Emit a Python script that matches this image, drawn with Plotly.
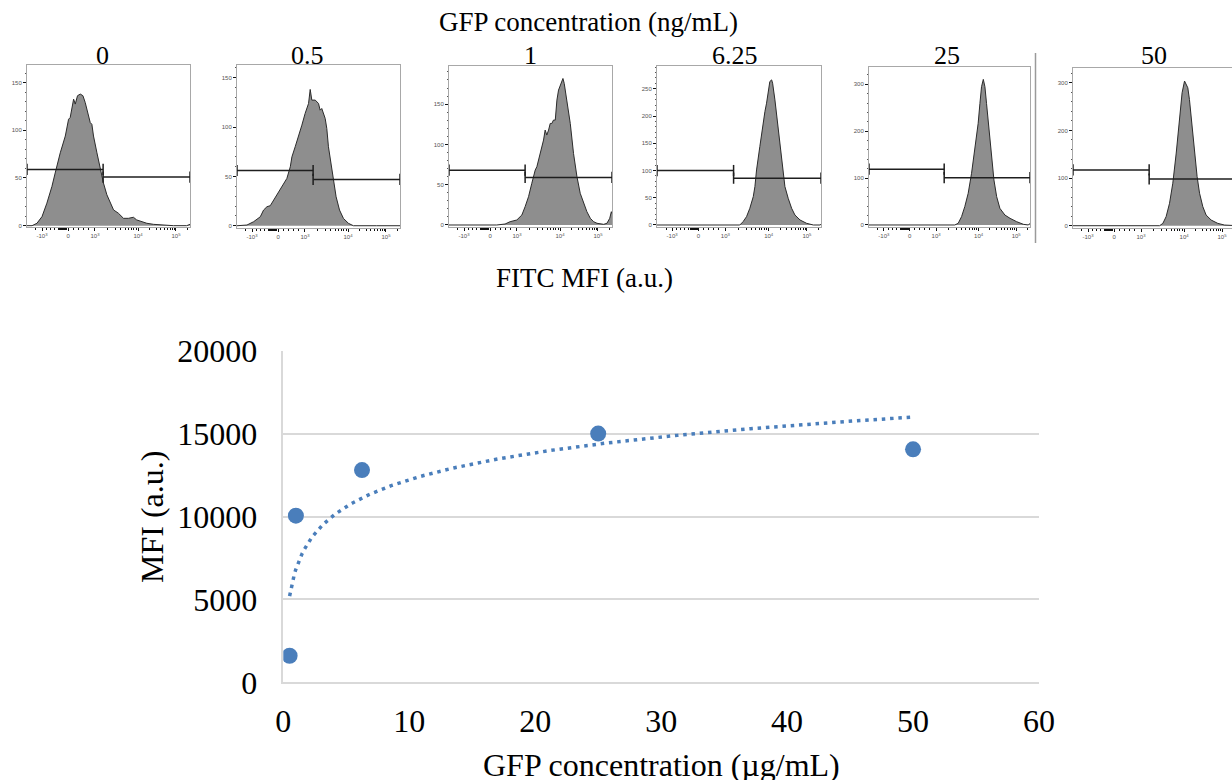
import numpy as np
import plotly.graph_objects as go

W, H = 1232, 780

# ---------------- bottom chart data ----------------
gfp_conc_ug = [0.5, 1, 6.25, 25, 50]
mfi_au = [1600, 10050, 12800, 15000, 14050]
x_ticks_bottom = [0, 10, 20, 30, 40, 50, 60]
y_ticks_bottom = [0, 5000, 10000, 15000, 20000]

# ---------------- flow histogram data (channel 0-100, event count) ----------------
panel_labels = ["0", "0.5", "1", "6.25", "25", "50"]

hist0_ch = [0, 3.1, 6.1, 9.2, 12.2, 15.3, 17.3, 20.4, 23.5, 25.5, 26.5, 27.6, 28.6, 29.6, 31.0, 32.7,
            34.3, 35.7, 37.1, 38.8, 39.8, 40.8, 42.9, 44.9, 46.9, 49.0, 51.0, 53.1, 56.1, 59.2, 62.2,
            65.3, 67.3, 70.4, 73.5, 77.6, 81.6, 89.8, 98.0, 100]
hist0_cnt = [0, 0, 2.5, 9.5, 23.6, 41.2, 55.3, 76.4, 94.0, 111.6, 113.4, 125.7, 132.7, 127.5, 136.3,
             138.0, 136.3, 129.2, 120.4, 108.1, 106.3, 94.0, 76.4, 58.8, 44.7, 32.4, 23.6, 16.5, 13.0,
             7.7, 7.7, 8.8, 6.0, 4.2, 2.5, 1.4, 0.7, 0, 0, 1.4]

hist1_ch = [0, 2.0, 6.1, 10.2, 14.3, 16.3, 18.4, 20.4, 22.4, 24.5, 27.6, 30.6, 32.7, 33.7, 35.7, 37.8,
            39.8, 41.8, 43.9, 44.9, 45.9, 48.0, 50.0, 51.0, 52.0, 54.1, 55.1, 56.1, 57.6, 59.2, 60.8,
            62.9, 65.3, 68.4, 71.4, 85.7, 100]
hist1_cnt = [0, 0, 0.7, 4.1, 9.1, 15.9, 19.3, 20.3, 26.0, 31.1, 39.5, 48.0, 59.8, 69.9, 80.1, 90.2,
             102.0, 113.9, 124.0, 138.2, 127.4, 127.4, 124.0, 117.2, 118.9, 108.8, 98.6, 80.1, 63.2,
             46.3, 29.4, 15.9, 7.4, 2.4, 0, 0, 0]

hist2_ch = [0, 21.1, 29.3, 34.4, 37.5, 41.6, 44.7, 46.7, 48.8, 50.8, 52.9, 53.9, 55.9, 58.0, 59.0,
            60.0, 61.1, 62.1, 63.1, 64.1, 65.2, 66.2, 67.2, 68.6, 69.9, 70.7, 72.3, 74.4, 76.4, 78.5,
            80.5, 82.6, 84.6, 86.7, 88.7, 90.8, 94.9, 96.9, 98.6, 99.6, 100]
hist2_cnt = [0, 0, 0, 1.2, 4.1, 6.2, 12.4, 22.7, 35.1, 51.7, 68.2, 72.3, 88.8, 105.4, 117.8, 111.6,
             117.8, 126.0, 126.0, 130.2, 130.2, 155.0, 167.4, 175.6, 181.8, 175.6, 155.0, 126.0, 88.8,
             59.9, 39.3, 26.9, 16.5, 8.3, 4.1, 2.1, 0.8, 2.1, 8.3, 16.5, 14.0]

hist3_ch = [0, 47.5, 50.5, 52.5, 54.6, 56.6, 58.7, 59.7, 60.7, 62.7, 64.8, 65.8, 66.8, 67.8, 68.8,
            69.9, 70.5, 71.9, 73.3, 75.0, 76.6, 78.0, 80.0, 82.1, 84.1, 87.2, 91.2, 95.3, 99.4, 100]
hist3_cnt = [0, 0, 0, 6.1, 15.3, 30.6, 52.1, 70.5, 101.1, 144.0, 193.0, 208.3, 223.7, 248.2, 263.5,
             266.5, 260.4, 229.8, 193.0, 144.0, 101.1, 70.5, 49.0, 30.6, 18.4, 9.2, 3.1, 0, 0, 1.2]

hist4_ch = [0, 53.3, 55.4, 57.5, 59.5, 61.6, 63.7, 65.8, 67.8, 68.9, 69.9, 71.0, 72.0, 73.0, 74.5,
            76.1, 77.6, 79.3, 81.3, 84.4, 87.6, 91.7, 95.9, 99.0, 100]
hist4_cnt = [0, 0, 3.6, 17.8, 39.1, 67.5, 110.2, 159.9, 216.8, 259.4, 295.0, 310.6, 295.0, 259.4,
             202.6, 138.6, 95.9, 60.4, 35.5, 21.3, 14.2, 7.1, 1.4, 0, 3.6]

hist5_ch = [0, 53.1, 55.1, 57.1, 59.2, 61.2, 63.3, 65.3, 66.9, 68.4, 69.4, 70.4, 71.4, 72.9, 74.5,
            76.1, 77.6, 79.6, 81.6, 84.7, 88.8, 92.9, 96.9, 100]
hist5_cnt = [0, 0, 4.9, 19.0, 47.1, 89.2, 152.5, 229.8, 279.0, 303.6, 296.6, 289.5, 264.9, 215.7,
             152.5, 103.3, 68.2, 40.1, 22.5, 11.9, 4.9, 1.4, 0.7, 0.5]

gate_split_ch = 46.7
gate_left_cnt = [59, 56, 68, 100, 119, 117]
gate_right_cnt = [51, 47, 59, 86, 101, 98]

fitc_tick_labels = ["-10<sup>3</sup>", "0", "10<sup>3</sup>", "10<sup>4</sup>", "10<sup>5</sup>"]
fitc_tick_ch = [9.2, 25.2, 41.7, 68.1, 91.4]

hist_ch = [hist0_ch, hist1_ch, hist2_ch, hist3_ch, hist4_ch, hist5_ch]
hist_cnt = [hist0_cnt, hist1_cnt, hist2_cnt, hist3_cnt, hist4_cnt, hist5_cnt]

# ---------------- layout helpers (pixel boxes) ----------------
def fx(px):
    return px / W

def fy(py):
    return 1 - py / H

panel_box = [  # x0, x1, ytop, ybottom (px)
    (27, 190, 65, 227),
    (237, 400, 65, 228),
    (449, 612, 66, 227),
    (657, 821, 66, 227),
    (869, 1030, 67, 227),
    (1073, 1232, 68, 228),
]
panel_yrange = [(-1.4, 168.5), (-2.3, 163), (-2.5, 197.3), (-3.7, 292), (-4.3, 337), (-4.8, 331)]
panel_ydtick = [50, 50, 50, 50, 100, 100]
panel_yminor = [10, 10, 10, 10, 20, 20]
panel_xrange = [(0, 100)] * 5 + [(0, 97.5)]
label_pos = [(103, 56), (307, 56), (530, 56), (735, 56), (947, 56), (1154, 56)]

# minor ticks for the biexponential-like FITC axis
d3, d4, d5 = fitc_tick_ch[2], fitc_tick_ch[3], fitc_tick_ch[4]
minor_x = [d3 + (d4 - d3) * np.log10(k) for k in range(2, 10)]
minor_x += [d4 + (d5 - d4) * np.log10(k) for k in range(2, 10)]
minor_x += [d5 + (d5 - d4) * np.log10(2)]
minor_x += list(np.linspace(19.5, 24.5, 9)) + [12, 14.5, 17, 28.5, 31.5, 34.5, 37.5, 5.5]

fig = go.Figure()

# ---------------- bottom chart ----------------
fig.add_trace(go.Scatter(
    x=gfp_conc_ug, y=mfi_au, mode="markers",
    marker=dict(size=16, color="#4a7ebb"),
    xaxis="x", yaxis="y", showlegend=False, hoverinfo="x+y"))

lx = np.log(np.array(gfp_conc_ug, dtype=float))
coef = np.polyfit(lx, np.array(mfi_au, dtype=float), 1)
xs = np.linspace(min(gfp_conc_ug), max(gfp_conc_ug), 400)
fig.add_trace(go.Scatter(
    x=xs, y=coef[0] * np.log(xs) + coef[1], mode="lines",
    line=dict(color="#4a7ebb", width=3.5, dash="3.5px,4.8px"),
    xaxis="x", yaxis="y", showlegend=False, hoverinfo="skip"))

serif = "Liberation Serif, Times New Roman, serif"
layout = dict(
    template="none",
    width=W, height=H,
    margin=dict(l=0, r=0, t=0, b=0, autoexpand=False),
    paper_bgcolor="white", plot_bgcolor="white",
    showlegend=False,
    xaxis=dict(domain=[fx(283.3), fx(1039)], range=[0, 60], tickvals=x_ticks_bottom,
               ticktext=[str(v) for v in x_ticks_bottom], automargin=False,
               showgrid=False, zeroline=False, showline=True, linecolor="#d9d9d9", linewidth=1.5,
               ticks="outside", ticklen=10, tickcolor="rgba(0,0,0,0)",
               tickfont=dict(family=serif, size=32, color="black"), anchor="y"),
    yaxis=dict(domain=[fy(682.3), fy(350.7)], range=[0, 20000], tickvals=y_ticks_bottom,
               ticktext=[str(v) for v in y_ticks_bottom], automargin=False,
               showgrid=True, gridcolor="#d9d9d9", gridwidth=1.5, zeroline=False,
               showline=True, linecolor="#d9d9d9", linewidth=1.5,
               ticks="outside", ticklen=18, tickcolor="rgba(0,0,0,0)",
               tickfont=dict(family=serif, size=32, color="black"), anchor="x"),
)

annotations = [
    dict(text="GFP concentration (µg/mL)", x=fx(661), y=fy(765), xref="paper", yref="paper",
         showarrow=False, font=dict(family=serif, size=32, color="black"),
         xanchor="center", yanchor="middle"),
    dict(text="MFI (a.u.)", x=fx(152), y=fy(517), xref="paper", yref="paper", textangle=-90,
         showarrow=False, font=dict(family=serif, size=32, color="black"),
         xanchor="center", yanchor="middle"),
    dict(text="GFP concentration (ng/mL)", x=fx(588), y=fy(22), xref="paper", yref="paper",
         showarrow=False, font=dict(family=serif, size=27, color="black"),
         xanchor="center", yanchor="middle"),
    dict(text="FITC MFI (a.u.)", x=fx(584), y=fy(278), xref="paper", yref="paper",
         showarrow=False, font=dict(family=serif, size=27, color="black"),
         xanchor="center", yanchor="middle"),
]

small = dict(family="Liberation Sans, Arial, sans-serif", size=6, color="#555")

for i in range(6):
    k = i + 2
    xa, ya = f"x{k}", f"y{k}"
    x0, x1, yt, yb = panel_box[i]
    fig.add_trace(go.Scatter(
        x=hist_ch[i], y=hist_cnt[i], mode="lines", fill="tozeroy",
        fillcolor="#8e8e8e", line=dict(color="#2b2b2b", width=1),
        xaxis=xa, yaxis=ya, showlegend=False, hoverinfo="skip"))
    for xs_g, yv in (([0, gate_split_ch], gate_left_cnt[i]), ([gate_split_ch, 100], gate_right_cnt[i])):
        fig.add_trace(go.Scatter(
            x=xs_g, y=[yv, yv], mode="lines+markers",
            line=dict(color="#1e1e1e", width=1.5),
            marker=dict(symbol="line-ns-open", size=8, color="#1e1e1e", line=dict(width=1.5)),
            xaxis=xa, yaxis=ya, showlegend=False, hoverinfo="skip", cliponaxis=False))
    ytv = list(range(0, int(panel_yrange[i][1]) + 1, panel_ydtick[i]))
    layout[f"xaxis{k}"] = dict(
        domain=[fx(x0), fx(x1)], range=list(panel_xrange[i]), anchor=ya, automargin=False,
        showgrid=False, zeroline=False, showline=True, linecolor="#a8a8a8", linewidth=1,
        mirror=True, ticks="outside", ticklen=3, tickwidth=1, tickcolor="#111",
        tickvals=fitc_tick_ch, ticktext=fitc_tick_labels, tickfont=small,
        minor=dict(tickvals=minor_x, ticks="outside", ticklen=2, tickcolor="#111", tickwidth=0.8),
        fixedrange=True)
    layout[f"yaxis{k}"] = dict(
        domain=[fy(yb), fy(yt)], range=list(panel_yrange[i]), anchor=xa, automargin=False,
        showgrid=False, zeroline=False, showline=True, linecolor="#a8a8a8", linewidth=1,
        mirror=(i < 5), ticks="outside", ticklen=3, tickwidth=1, tickcolor="#111",
        tickvals=ytv, ticktext=[str(v) for v in ytv], tickfont=small,
        minor=dict(dtick=panel_yminor[i], tick0=0, ticks="outside", ticklen=1.5,
                   tickcolor="#555", tickwidth=0.6),
        fixedrange=True)
    lx_, ly_ = label_pos[i]
    annotations.append(dict(text=panel_labels[i], x=fx(lx_), y=fy(ly_), xref="paper", yref="paper",
                            showarrow=False, font=dict(family=serif, size=26, color="black"),
                            xanchor="center", yanchor="middle"))

layout["annotations"] = annotations
layout["shapes"] = [dict(type="line", xref="paper", yref="paper", x0=fx(1035.5), x1=fx(1035.5),
                         y0=fy(243), y1=fy(53), line=dict(color="#9a9a9a", width=1.5))]

fig.update_layout(**layout)
fig.write_html("out.html", config={"displayModeBar": False},
               post_script="document.body.style.margin='0';document.body.style.overflow='hidden';")
